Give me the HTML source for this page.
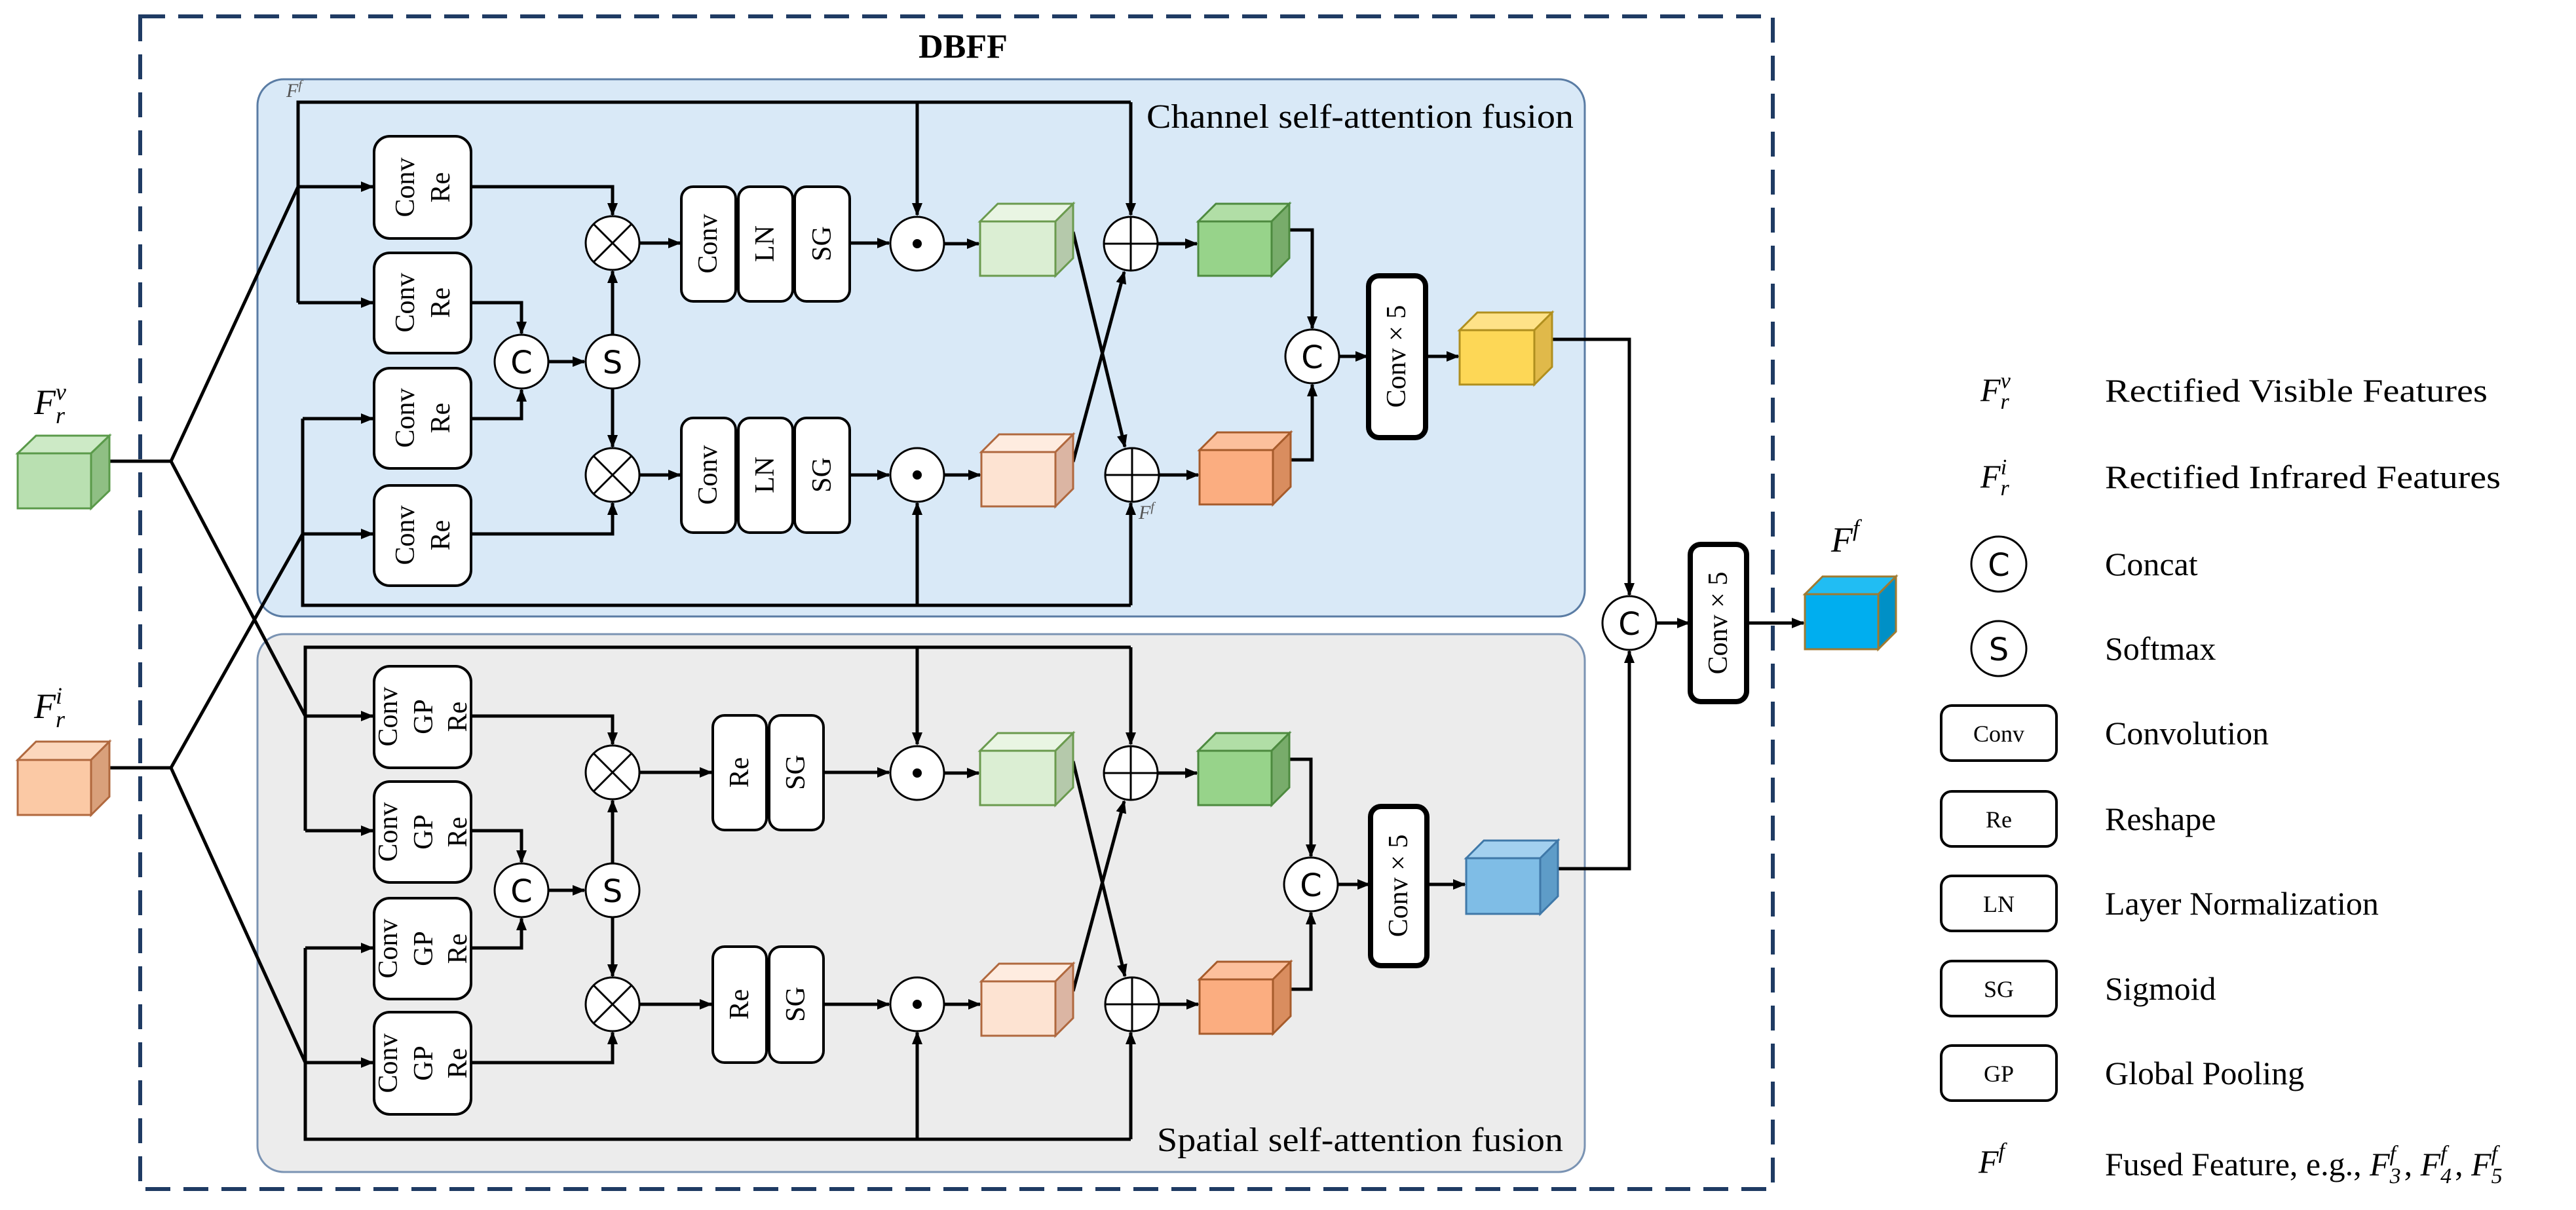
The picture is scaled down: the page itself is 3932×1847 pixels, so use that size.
<!DOCTYPE html>
<html><head><meta charset="utf-8"><style>html,body{margin:0;padding:0;background:#fff}svg{display:block}
svg text{font-family:"Liberation Serif",serif}
svg text.s{font-family:"DejaVu Sans",sans-serif}</style></head>
<body>
<svg width="3932" height="1847" viewBox="0 0 3932 1847" xmlns="http://www.w3.org/2000/svg">
<defs>
<marker id="a" markerUnits="userSpaceOnUse" markerWidth="20" markerHeight="18" refX="18" refY="9" orient="auto"><path d="M0,1 L20,9 L0,17 z" fill="#000"/></marker>
</defs>
<rect width="3932" height="1847" fill="#fff"/>
<rect x="214" y="25" width="2492" height="1790" fill="none" stroke="#1f3b63" stroke-width="6" stroke-dasharray="38 20"/>
<text x="1470" y="88" font-size="52" font-weight="bold" text-anchor="middle">DBFF</text>
<rect x="393" y="121" width="2026" height="820" rx="40" fill="#d9e9f7" stroke="#5a7ca4" stroke-width="3"/>
<rect x="393" y="968" width="2026" height="821" rx="40" fill="#ececec" stroke="#7a93b3" stroke-width="3"/>
<text x="1750" y="195" font-size="52" textLength="652" lengthAdjust="spacingAndGlyphs">Channel self-attention fusion</text>
<text x="1766" y="1757" font-size="52" textLength="620" lengthAdjust="spacingAndGlyphs">Spatial self-attention fusion</text>
<text x="437" y="148" font-size="30" font-style="italic" fill="#555">F<tspan font-size="20" dy="-12">f</tspan></text>
<text x="1738" y="792" font-size="30" font-style="italic" fill="#555">F<tspan font-size="20" dy="-12">f</tspan></text>

<g stroke="#000" stroke-width="5" fill="none">
<path d="M167,704 H261 L455,285 M261,704 L466,1093"/>
<path d="M167,1172 H261 L462,815 M261,1172 L466,1622"/>
<path d="M455,462 V156 H1726"/>
<path d="M1400,156 V328" marker-end="url(#a)"/>
<path d="M1726,156 V328" marker-end="url(#a)"/>
<path d="M455,285 H569" marker-end="url(#a)"/>
<path d="M455,462 H569" marker-end="url(#a)"/>
<path d="M462,639 V924 H1726"/>
<path d="M462,639 H569" marker-end="url(#a)"/>
<path d="M462,815 H569" marker-end="url(#a)"/>
<path d="M1400,924 V768" marker-end="url(#a)"/>
<path d="M1726,924 V768" marker-end="url(#a)"/>
<path d="M719,285 H935 V328" marker-end="url(#a)"/>
<path d="M719,462 H796 V509" marker-end="url(#a)"/>
<path d="M719,639 H796 V595" marker-end="url(#a)"/>
<path d="M719,815 H935 V768" marker-end="url(#a)"/>
<path d="M837,552 H892" marker-end="url(#a)"/>
<path d="M935,511 V414" marker-end="url(#a)"/>
<path d="M935,593 V682" marker-end="url(#a)"/>
<path d="M976,371 H1038" marker-end="url(#a)"/>
<path d="M976,725 H1038" marker-end="url(#a)"/>
<path d="M1297,371 H1357" marker-end="url(#a)"/>
<path d="M1297,725 H1357" marker-end="url(#a)"/>
<path d="M1441,372 H1494" marker-end="url(#a)"/>
<path d="M1441,725 H1496" marker-end="url(#a)"/>
<path d="M1767,372 H1827" marker-end="url(#a)"/>
<path d="M1769,725 H1829" marker-end="url(#a)"/>
<path d="M1638,354 L1717,682" marker-end="url(#a)"/>
<path d="M1638,705 L1716,415" marker-end="url(#a)"/>
<path d="M1968,351 H2003 V501" marker-end="url(#a)"/>
<path d="M1970,702 H2003 V587" marker-end="url(#a)"/>
<path d="M2044,544 H2087" marker-end="url(#a)"/>
<path d="M2176,544 H2226" marker-end="url(#a)"/>
<path d="M2369,518 H2487 V908" marker-end="url(#a)"/>
<path d="M466,1268 V988 H1726"/>
<path d="M1400,988 V1136" marker-end="url(#a)"/>
<path d="M1726,988 V1136" marker-end="url(#a)"/>
<path d="M466,1093 H569" marker-end="url(#a)"/>
<path d="M466,1268 H569" marker-end="url(#a)"/>
<path d="M466,1447 V1739 H1726"/>
<path d="M466,1447 H569" marker-end="url(#a)"/>
<path d="M466,1622 H569" marker-end="url(#a)"/>
<path d="M1400,1739 V1576" marker-end="url(#a)"/>
<path d="M1726,1739 V1576" marker-end="url(#a)"/>
<path d="M719,1093 H935 V1136" marker-end="url(#a)"/>
<path d="M719,1268 H796 V1316" marker-end="url(#a)"/>
<path d="M719,1447 H796 V1402" marker-end="url(#a)"/>
<path d="M719,1622 H935 V1576" marker-end="url(#a)"/>
<path d="M837,1359 H892" marker-end="url(#a)"/>
<path d="M935,1318 V1222" marker-end="url(#a)"/>
<path d="M935,1400 V1490" marker-end="url(#a)"/>
<path d="M976,1179 H1086" marker-end="url(#a)"/>
<path d="M976,1533 H1086" marker-end="url(#a)"/>
<path d="M1257,1179 H1357" marker-end="url(#a)"/>
<path d="M1257,1533 H1357" marker-end="url(#a)"/>
<path d="M1441,1180 H1494" marker-end="url(#a)"/>
<path d="M1441,1533 H1496" marker-end="url(#a)"/>
<path d="M1767,1180 H1827" marker-end="url(#a)"/>
<path d="M1769,1533 H1829" marker-end="url(#a)"/>
<path d="M1638,1162 L1717,1490" marker-end="url(#a)"/>
<path d="M1638,1513 L1716,1223" marker-end="url(#a)"/>
<path d="M1968,1159 H2001 V1307" marker-end="url(#a)"/>
<path d="M1970,1510 H2001 V1393" marker-end="url(#a)"/>
<path d="M2042,1350 H2090" marker-end="url(#a)"/>
<path d="M2178,1350 H2236" marker-end="url(#a)"/>
<path d="M2378,1326 H2487 V994" marker-end="url(#a)"/>
<path d="M2528,951 H2578" marker-end="url(#a)"/>
<path d="M2666,951 H2753" marker-end="url(#a)"/>
</g>

<g stroke="#000" stroke-width="4" fill="#fff">
<rect x="571" y="208" width="148" height="156" rx="24"/>
<rect x="571" y="386" width="148" height="153" rx="24"/>
<rect x="571" y="562" width="148" height="153" rx="24"/>
<rect x="571" y="741" width="148" height="153" rx="24"/>
<rect x="571" y="1017" width="148" height="155" rx="24"/>
<rect x="571" y="1193" width="148" height="154" rx="24"/>
<rect x="571" y="1371" width="148" height="154" rx="24"/>
<rect x="571" y="1545" width="148" height="156" rx="24"/>
<rect x="1040" y="285" width="83" height="175" rx="18"/>
<rect x="1127" y="285" width="83" height="175" rx="18"/>
<rect x="1213" y="285" width="84" height="175" rx="18"/>
<rect x="1040" y="638" width="83" height="175" rx="18"/>
<rect x="1127" y="638" width="83" height="175" rx="18"/>
<rect x="1213" y="638" width="84" height="175" rx="18"/>
<rect x="1088" y="1092" width="82" height="175" rx="18"/>
<rect x="1174" y="1092" width="83" height="175" rx="18"/>
<rect x="1088" y="1445" width="82" height="177" rx="18"/>
<rect x="1174" y="1445" width="83" height="177" rx="18"/>
</g>
<g stroke="#000" stroke-width="8" fill="#fff">
<rect x="2089" y="421" width="87" height="247" rx="16"/>
<rect x="2092" y="1231" width="86" height="243" rx="16"/>
<rect x="2580" y="831" width="86" height="240" rx="16"/>
</g>
<g font-size="42" text-anchor="middle" dominant-baseline="central">
<g transform="translate(645,286) rotate(-90)"><text y="-26">Conv</text><text y="28">Re</text></g>
<g transform="translate(645,462) rotate(-90)"><text y="-26">Conv</text><text y="28">Re</text></g>
<g transform="translate(645,638) rotate(-90)"><text y="-26">Conv</text><text y="28">Re</text></g>
<g transform="translate(645,817) rotate(-90)"><text y="-26">Conv</text><text y="28">Re</text></g>
<g transform="translate(645,1094) rotate(-90)"><text y="-52">Conv</text><text y="2">GP</text><text y="54">Re</text></g>
<g transform="translate(645,1270) rotate(-90)"><text y="-52">Conv</text><text y="2">GP</text><text y="54">Re</text></g>
<g transform="translate(645,1448) rotate(-90)"><text y="-52">Conv</text><text y="2">GP</text><text y="54">Re</text></g>
<g transform="translate(645,1623) rotate(-90)"><text y="-52">Conv</text><text y="2">GP</text><text y="54">Re</text></g>
<g transform="translate(1081,372) rotate(-90)"><text>Conv</text></g>
<g transform="translate(1168,372) rotate(-90)"><text>LN</text></g>
<g transform="translate(1255,372) rotate(-90)"><text>SG</text></g>
<g transform="translate(1081,725) rotate(-90)"><text>Conv</text></g>
<g transform="translate(1168,725) rotate(-90)"><text>LN</text></g>
<g transform="translate(1255,725) rotate(-90)"><text>SG</text></g>
<g transform="translate(1129,1179) rotate(-90)"><text>Re</text></g>
<g transform="translate(1215,1179) rotate(-90)"><text>SG</text></g>
<g transform="translate(1129,1533) rotate(-90)"><text>Re</text></g>
<g transform="translate(1215,1533) rotate(-90)"><text>SG</text></g>
<g transform="translate(2132,544) rotate(-90)"><text>Conv  × 5</text></g>
<g transform="translate(2135,1352) rotate(-90)"><text>Conv  × 5</text></g>
<g transform="translate(2623,951) rotate(-90)"><text>Conv  × 5</text></g>
</g>

<g stroke="#000" stroke-width="3" fill="#fff">
<circle cx="796" cy="552" r="41"/><circle cx="935" cy="552" r="41"/>
<circle cx="796" cy="1359" r="41"/><circle cx="935" cy="1359" r="41"/>
<circle cx="2003" cy="544" r="41"/><circle cx="2001" cy="1350" r="41"/><circle cx="2487" cy="951" r="41"/>
<circle cx="935" cy="371" r="41"/><circle cx="935" cy="725" r="41"/>
<circle cx="935" cy="1179" r="41"/><circle cx="935" cy="1533" r="41"/>
<circle cx="1400" cy="372" r="41"/><circle cx="1400" cy="725" r="41"/>
<circle cx="1400" cy="1180" r="41"/><circle cx="1400" cy="1533" r="41"/>
<circle cx="1726" cy="372" r="41"/><circle cx="1728" cy="725" r="41"/>
<circle cx="1726" cy="1180" r="41"/><circle cx="1728" cy="1533" r="41"/>
</g>
<g stroke="#000" stroke-width="3">
<path d="M906,342 L964,400 M964,342 L906,400 M906,696 L964,754 M964,696 L906,754 M906,1150 L964,1208 M964,1150 L906,1208 M906,1504 L964,1562 M964,1504 L906,1562"/>
<path d="M1685,372 H1767 M1726,331 V413 M1687,725 H1769 M1728,684 V766 M1685,1180 H1767 M1726,1139 V1221 M1687,1533 H1769 M1728,1492 V1574"/>
</g>
<g fill="#000"><circle cx="1400" cy="372" r="7"/><circle cx="1400" cy="725" r="7"/><circle cx="1400" cy="1180" r="7"/><circle cx="1400" cy="1533" r="7"/></g>
<g font-size="48" text-anchor="middle" dominant-baseline="central">
<text class="s" x="796" y="554">C</text><text class="s" x="935" y="554">S</text>
<text class="s" x="796" y="1361">C</text><text class="s" x="935" y="1361">S</text>
<text class="s" x="2003" y="546">C</text><text class="s" x="2001" y="1352">C</text><text class="s" x="2487" y="953">C</text>
</g>

<g stroke-width="3">
<g stroke="#5a9a4a"><rect x="27" y="692" width="112" height="84" fill="#b9e0b1"/><path d="M27,692 L55,665 H167 L139,692 Z" fill="#cdeac6"/><path d="M139,692 L167,665 V749 L139,776 Z" fill="#8fbf84"/></g>
<g stroke="#b0683e"><rect x="27" y="1160" width="112" height="84" fill="#fbc9a5"/><path d="M27,1160 L55,1132 H167 L139,1160 Z" fill="#fcd7bd"/><path d="M139,1160 L167,1132 V1216 L139,1244 Z" fill="#d9a07b"/></g>
<g stroke="#6a9a4e"><rect x="1496" y="338" width="115" height="83" fill="#dbeed3"/><path d="M1496,338 L1523,311 H1638 L1611,338 Z" fill="#e9f5e3"/><path d="M1611,338 L1638,311 V394 L1611,421 Z" fill="#b5c9ab"/></g>
<g stroke="#6a9a4e"><rect x="1496" y="1146" width="115" height="83" fill="#dbeed3"/><path d="M1496,1146 L1523,1119 H1638 L1611,1146 Z" fill="#e9f5e3"/><path d="M1611,1146 L1638,1119 V1202 L1611,1229 Z" fill="#b5c9ab"/></g>
<g stroke="#4d8a3f"><rect x="1829" y="338" width="112" height="83" fill="#97d38a"/><path d="M1829,338 L1856,311 H1968 L1941,338 Z" fill="#b1dea6"/><path d="M1941,338 L1968,311 V394 L1941,421 Z" fill="#78ac6b"/></g>
<g stroke="#4d8a3f"><rect x="1829" y="1146" width="112" height="83" fill="#97d38a"/><path d="M1829,1146 L1856,1119 H1968 L1941,1146 Z" fill="#b1dea6"/><path d="M1941,1146 L1968,1119 V1202 L1941,1229 Z" fill="#78ac6b"/></g>
<g stroke="#b0683e"><rect x="1498" y="690" width="113" height="83" fill="#fde3d2"/><path d="M1498,690 L1525,663 H1638 L1611,690 Z" fill="#feece0"/><path d="M1611,690 L1638,663 V746 L1611,773 Z" fill="#dbb5a3"/></g>
<g stroke="#b0683e"><rect x="1498" y="1498" width="113" height="83" fill="#fde3d2"/><path d="M1498,1498 L1525,1471 H1638 L1611,1498 Z" fill="#feece0"/><path d="M1611,1498 L1638,1471 V1554 L1611,1581 Z" fill="#dbb5a3"/></g>
<g stroke="#a65b2b"><rect x="1831" y="687" width="112" height="83" fill="#fbad80"/><path d="M1831,687 L1858,660 H1970 L1943,687 Z" fill="#fcc09c"/><path d="M1943,687 L1970,660 V743 L1943,770 Z" fill="#d98d5f"/></g>
<g stroke="#a65b2b"><rect x="1831" y="1495" width="112" height="83" fill="#fbad80"/><path d="M1831,1495 L1858,1468 H1970 L1943,1495 Z" fill="#fcc09c"/><path d="M1943,1495 L1970,1468 V1551 L1943,1578 Z" fill="#d98d5f"/></g>
<g stroke="#b08f1e"><rect x="2228" y="504" width="114" height="83" fill="#fdd756"/><path d="M2228,504 L2255,477 H2369 L2342,504 Z" fill="#fee288"/><path d="M2342,504 L2369,477 V560 L2342,587 Z" fill="#e0b94a"/></g>
<g stroke="#3f78a8"><rect x="2238" y="1310" width="113" height="85" fill="#7fbde6"/><path d="M2238,1310 L2265,1283 H2378 L2351,1310 Z" fill="#a3d0ef"/><path d="M2351,1310 L2378,1283 V1368 L2351,1395 Z" fill="#5e9cc8"/></g>
<g stroke="#a07a30"><rect x="2755" y="907" width="112" height="84" fill="#00aeef"/><path d="M2755,907 L2782,880 H2894 L2867,907 Z" fill="#21bdf3"/><path d="M2867,907 L2894,880 V964 L2867,991 Z" fill="#0090c6"/></g>
</g>

<g font-style="italic">
<text x="52" y="632" font-size="54">F<tspan font-size="36" dy="14">r</tspan><tspan font-size="36" dx="-14" dy="-36">v</tspan></text>
<text x="52" y="1096" font-size="54">F<tspan font-size="36" dy="14">r</tspan><tspan font-size="36" dx="-14" dy="-36">i</tspan></text>
<text x="2795" y="842" font-size="54">F<tspan font-size="36" dy="-24">f</tspan></text>
</g>

<g font-size="50">
<text x="3023" y="612" font-style="italic">F<tspan font-size="34" dy="12">r</tspan><tspan font-size="34" dx="-13" dy="-32">v</tspan></text>
<text x="3023" y="744" font-style="italic">F<tspan font-size="34" dy="12">r</tspan><tspan font-size="34" dx="-13" dy="-32">i</tspan></text>
<text x="3213" y="613" textLength="584" lengthAdjust="spacingAndGlyphs">Rectified Visible Features</text>
<text x="3213" y="745" textLength="604" lengthAdjust="spacingAndGlyphs">Rectified Infrared Features</text>
<text x="3213" y="878">Concat</text>
<text x="3213" y="1007">Softmax</text>
<text x="3213" y="1136">Convolution</text>
<text x="3213" y="1267">Reshape</text>
<text x="3213" y="1396">Layer Normalization</text>
<text x="3213" y="1526">Sigmoid</text>
<text x="3213" y="1655">Global Pooling</text>
<text x="3213" y="1794">Fused Feature, e.g., <tspan font-style="italic">F</tspan><tspan font-size="34" font-style="italic" dy="12">3</tspan><tspan font-size="34" font-style="italic" dx="-17" dy="-34">f</tspan><tspan dy="22"> , </tspan><tspan font-style="italic">F</tspan><tspan font-size="34" font-style="italic" dy="12">4</tspan><tspan font-size="34" font-style="italic" dx="-17" dy="-34">f</tspan><tspan dy="22"> , </tspan><tspan font-style="italic">F</tspan><tspan font-size="34" font-style="italic" dy="12">5</tspan><tspan font-size="34" font-style="italic" dx="-17" dy="-34">f</tspan></text>
<text x="3020" y="1790" font-style="italic">F<tspan font-size="34" dy="-22">f</tspan></text>
</g>
<g stroke="#000" stroke-width="3" fill="#fff">
<circle cx="3051" cy="861" r="42"/><circle cx="3051" cy="990" r="42"/>
</g>
<g stroke="#000" stroke-width="4" fill="#fff">
<rect x="2963" y="1077" width="176" height="84" rx="16"/>
<rect x="2963" y="1208" width="176" height="84" rx="16"/>
<rect x="2963" y="1337" width="176" height="84" rx="16"/>
<rect x="2963" y="1467" width="176" height="84" rx="16"/>
<rect x="2963" y="1596" width="176" height="84" rx="16"/>
</g>
<g text-anchor="middle" dominant-baseline="central">
<text class="s" x="3051" y="863" font-size="48">C</text>
<text class="s" x="3051" y="992" font-size="48">S</text>
<g font-size="36"><text x="3051" y="1120">Conv</text><text x="3051" y="1251">Re</text><text x="3051" y="1380">LN</text><text x="3051" y="1510">SG</text><text x="3051" y="1639">GP</text></g>
</g>
</svg>
</body></html>
